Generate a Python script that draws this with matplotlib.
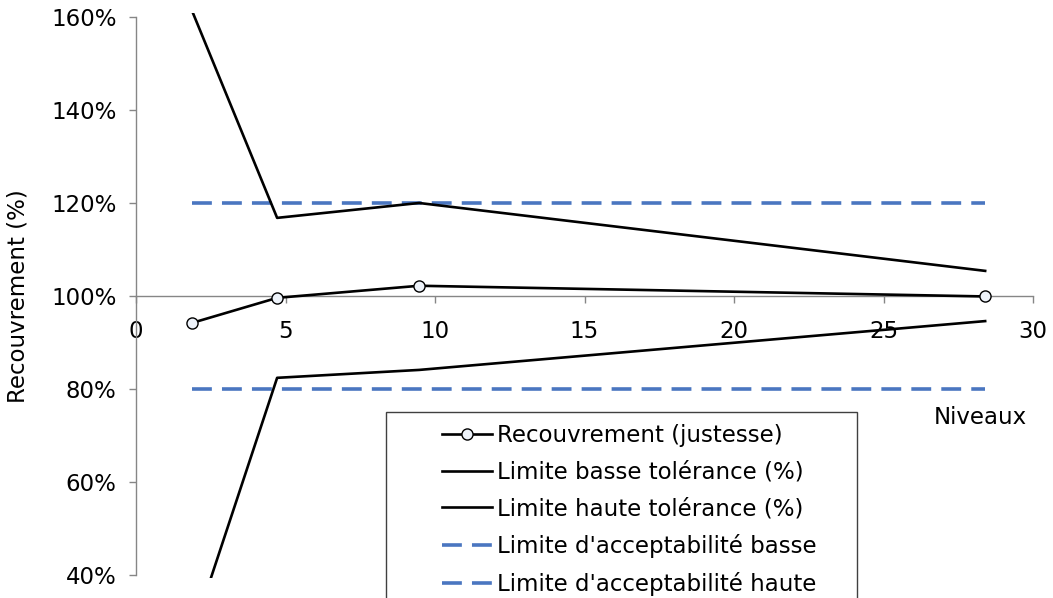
import matplotlib
matplotlib.use('Agg')
import matplotlib.pyplot as plt
from matplotlib.patches import Rectangle
from matplotlib.ticker import FuncFormatter

# data
niveaux = [1.87, 4.72, 9.47, 28.4]
recouvrement = [94.2, 99.6, 102.2, 99.9]
lim_basse_tol = [27.0, 82.4, 84.1, 94.6]
lim_haute_tol = [161.4, 116.8, 120.0, 105.4]
acc_basse = [80, 80, 80, 80]
acc_haute = [120, 120, 120, 120]

y_ticks = [40, 60, 80, 100, 120, 140, 160]
x_ticks = [0, 5, 10, 15, 20, 25, 30]

plt.rcParams['font.family'] = ['DejaVu Sans']
plt.rcParams['font.size'] = 16.5

W, H = 1053, 598
fig = plt.figure(figsize=(W / 100, H / 100), dpi=100)
ax = fig.add_axes([136 / W, (H - 578) / H, (1033 - 136) / W, (578 - 13) / H])

blue = '#4a76c0'
grey = '#868686'

ax.plot(niveaux, recouvrement, color='black', lw=1.9, marker='o', ms=8,
        mfc='#eef3fa', mec='black', mew=1.0, label='Recouvrement (justesse)', zorder=4)
ax.plot(niveaux, lim_basse_tol, color='black', lw=1.9, label='Limite basse tolérance (%)', zorder=3)
ax.plot(niveaux, lim_haute_tol, color='black', lw=1.9, label='Limite haute tolérance (%)', zorder=3)
ax.plot(niveaux, acc_basse, color=blue, lw=2.6, dashes=(5.5, 2.8),
        label="Limite d'acceptabilité basse", zorder=2)
ax.plot(niveaux, acc_haute, color=blue, lw=2.6, dashes=(5.5, 2.8),
        label="Limite d'acceptabilité haute", zorder=2)

ax.set_xlim(0, 30)
ax.set_ylim(39.35, 160.86)
ax.set_xticks(x_ticks)
ax.set_yticks(y_ticks)
ax.yaxis.set_major_formatter(FuncFormatter(lambda v, p: '%d%%' % v))

# axes crossing at 100%
ax.spines['top'].set_visible(False)
ax.spines['right'].set_visible(False)
ax.spines['bottom'].set_position(('data', 100))
ax.spines['left'].set_bounds(40, 160)
for s in ('left', 'bottom'):
    ax.spines[s].set_color(grey)
    ax.spines[s].set_linewidth(1.0)
ax.tick_params(axis='both', direction='out', length=5, width=1.0, color=grey, labelcolor='black')
ax.tick_params(axis='x', pad=12.5)
ax.tick_params(axis='y', pad=9)

ax.set_ylabel('Recouvrement (%)')
ax.yaxis.set_label_coords((30 - 136) / (1033 - 136), (578 - 296) / (578 - 13))
ax.text((980 - 136) / (1033 - 136), (578 - 418) / (578 - 13), 'Niveaux',
        transform=ax.transAxes, ha='center', va='center')

# legend box running off the bottom edge
fig.patches.append(Rectangle((386 / W, -0.02), (857 - 386) / W, (H - 412) / H + 0.02,
                             transform=fig.transFigure, fill=True, facecolor='white',
                             edgecolor='#404040', lw=1.0, zorder=5))
leg = fig.legend(loc='upper left', bbox_to_anchor=(442 / W, (H - 424) / H), frameon=False,
                 borderpad=0, borderaxespad=0, labelspacing=0.6, handlelength=2.2,
                 handletextpad=0.2)
leg.set_zorder(6)

fig.savefig('out.png', dpi=100)
